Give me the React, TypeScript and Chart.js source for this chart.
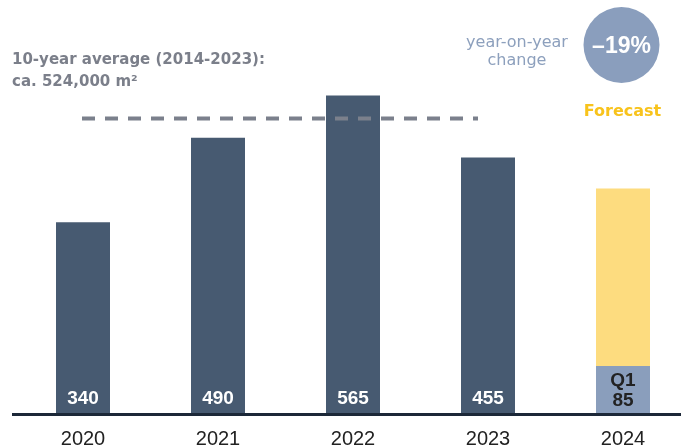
import React, { useEffect, useRef } from "react";
import { Chart, registerables } from "chart.js";

Chart.register(...registerables);

const categories = ["2020", "2021", "2022", "2023", "2024"];
const actualValues = [340, 490, 565, 455, null];
const q1Values = [null, null, null, null, 85];
const forecastRest = [null, null, null, null, 315];
const averageValue = 524;
const avgLine1 = "10-year average (2014-2023):";
const avgLine2 = "ca. 524,000 m²";
const yoyLine1 = "year-on-year";
const yoyLine2 = "change";
const yoyValue = "–19%";
const forecastLabel = "Forecast";
const q1Label = "Q1";

const DARK = "#475a71";
const Q1BLUE = "#8a9ebc";
const YELLOW = "#fddc7f";
const GREY = "#7b7f8a";

const overlayPlugin = {
  id: "overlay",
  afterDatasetsDraw(chart: any) {
    const { ctx } = chart;
    const x = chart.scales.x;
    const y = chart.scales.y;
    const base = y.getPixelForValue(0);
    ctx.save();
    // axis line
    ctx.strokeStyle = "#1c2838";
    ctx.lineWidth = 3;
    ctx.beginPath();
    ctx.moveTo(12, base + 0.5);
    ctx.lineTo(chart.width, base + 0.5);
    ctx.stroke();

    // average dashed line
    const ay = y.getPixelForValue(averageValue);
    ctx.strokeStyle = "#7b808c";
    ctx.lineWidth = 4;
    ctx.setLineDash([13, 10]);
    ctx.beginPath();
    ctx.moveTo(x.getPixelForValue(0) - 1, ay);
    ctx.lineTo(x.getPixelForValue(3) - 10, ay);
    ctx.stroke();
    ctx.setLineDash([]);

    // value labels
    ctx.textAlign = "center";
    ctx.textBaseline = "middle";
    ctx.font = "bold 19px 'Liberation Sans', Arial, sans-serif";
    actualValues.forEach((v, i) => {
      if (v == null) return;
      ctx.fillStyle = "#ffffff";
      ctx.fillText(String(v), x.getPixelForValue(i), base - 15);
    });
    const qi = 4;
    ctx.fillStyle = "#222222";
    ctx.fillText(q1Label, x.getPixelForValue(qi), base - 33);
    ctx.fillText(String(q1Values[qi]), x.getPixelForValue(qi), base - 13);

    // average text
    ctx.textAlign = "left";
    ctx.fillStyle = GREY;
    ctx.font = "bold 15px 'DejaVu Sans', sans-serif";
    ctx.fillText(avgLine1, 12, 60);
    ctx.fillText(avgLine2, 12, 82);

    // yoy
    const cx = x.getPixelForValue(4) - 1.5;
    ctx.textAlign = "center";
    ctx.fillStyle = "#8da0bd";
    ctx.font = "16px 'DejaVu Sans', sans-serif";
    ctx.fillText(yoyLine1, 517, 43);
    ctx.fillText(yoyLine2, 517, 61);

    ctx.fillStyle = "#8a9ebd";
    ctx.beginPath();
    ctx.arc(cx, 45, 38, 0, Math.PI * 2);
    ctx.fill();
    ctx.fillStyle = "#ffffff";
    ctx.font = "bold 23px 'Liberation Sans', Arial, sans-serif";
    ctx.fillText(yoyValue, cx, 47);

    ctx.fillStyle = "#f8c31c";
    ctx.font = "bold 16px 'DejaVu Sans', sans-serif";
    ctx.fillText(forecastLabel, cx + 1, 112);
    ctx.restore();
  },
};

export default function App() {
  const ref = useRef<HTMLCanvasElement>(null);
  useEffect(() => {
    if (!ref.current) return;
    const chart = new Chart(ref.current, {
      type: "bar",
      data: {
        labels: categories,
        datasets: [
          { label: "Actual", data: actualValues, backgroundColor: DARK },
          { label: "Q1", data: q1Values, backgroundColor: Q1BLUE },
          { label: "Forecast", data: forecastRest, backgroundColor: YELLOW },
        ],
      },
      options: {
        animation: false,
        responsive: true,
        maintainAspectRatio: false,
        layout: { padding: { left: 15.5, right: 9.5, top: 19.25, bottom: 0 } },
        datasets: { bar: { barPercentage: 0.4, categoryPercentage: 1 } },
        plugins: { legend: { display: false }, tooltip: { enabled: false } },
        scales: {
          x: {
            stacked: true,
            grid: { display: false, drawTicks: false },
            border: { display: false },
            ticks: {
              color: "#222222",
              padding: 15,
              font: { size: 20, family: "'Liberation Sans', Arial, sans-serif", lineHeight: 1 },
            },
          },
          y: { stacked: true, display: false, min: 0, max: 700 },
        },
      },
      plugins: [overlayPlugin],
    });
    return () => chart.destroy();
  }, []);
  return (
    <div style={{ position: "fixed", left: 0, top: 0, width: 681, height: 448, overflow: "hidden", background: "#fff" }}>
      <div style={{ width: 700, height: 464, position: "relative" }}>
        <canvas ref={ref} />
      </div>
    </div>
  );
}
